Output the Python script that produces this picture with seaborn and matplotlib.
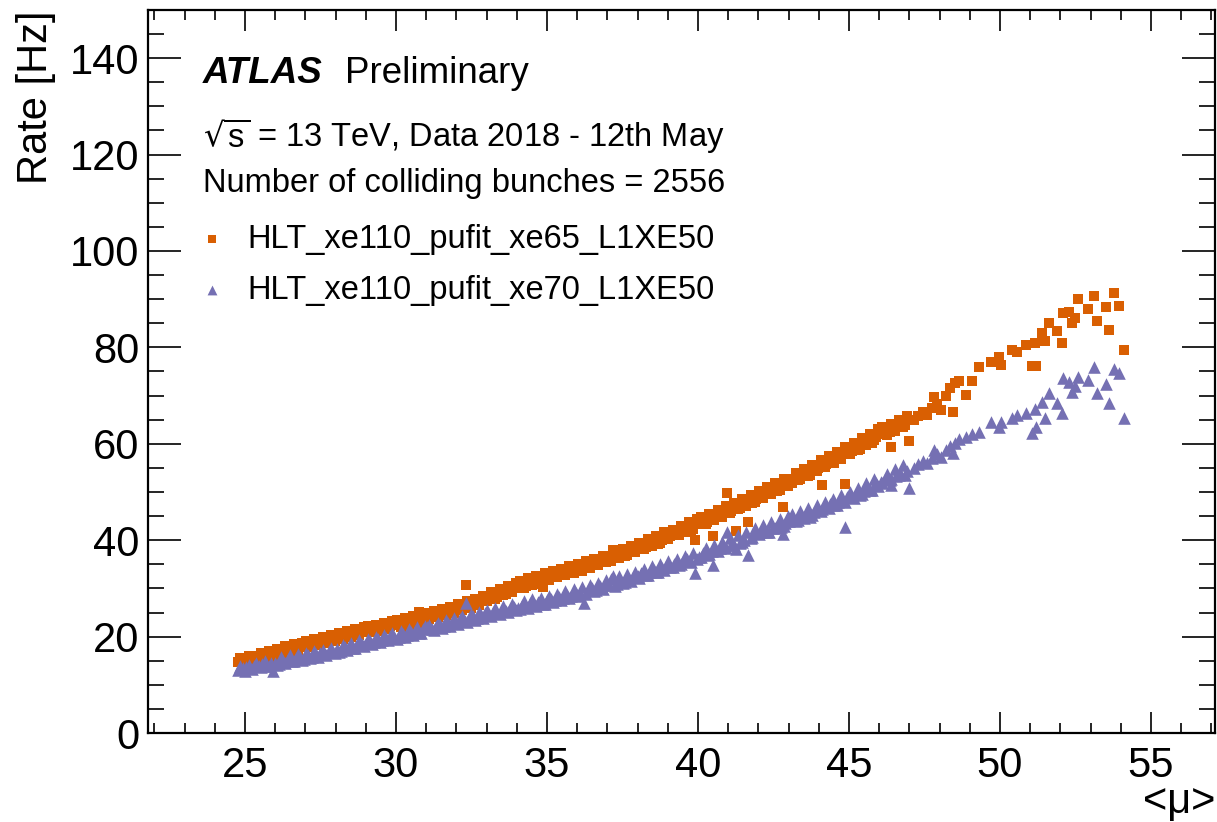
import matplotlib
matplotlib.use("Agg")
import matplotlib.pyplot as plt
import seaborn as sns
import pandas as pd
from matplotlib.ticker import MultipleLocator

# ---------------- data ----------------
# run A of luminosity blocks
mu_a = [
    24.78, 24.92, 25.05, 25.18, 25.31, 25.45, 25.58, 25.72, 25.86, 25.93,
    26.0, 26.13, 26.27, 26.41, 26.55, 26.68, 26.82, 26.95,
    27.09, 27.22, 27.36, 27.5, 27.63, 27.77, 27.9,
    28.04, 28.18, 28.31, 28.45, 28.59, 28.72, 28.86,
    29.0, 29.13, 29.27, 29.4, 29.54, 29.68, 29.81, 29.95,
    30.09, 30.22, 30.36, 30.5, 30.63, 30.77, 30.91,
    31.04, 31.18, 31.32, 31.45, 31.59, 31.72, 31.86,
    32.0, 32.13, 32.27, 32.31, 32.41, 32.54, 32.68, 32.82, 32.95,
    33.09, 33.22, 33.36, 33.5, 33.63, 33.77, 33.9,
    34.04, 34.18, 34.31, 34.45, 34.59, 34.72, 34.87,
    35.0, 35.13, 35.27, 35.4, 35.54, 35.68, 35.81, 35.95,
    36.09, 36.22, 36.36, 36.5, 36.63, 36.77, 36.91,
    37.04, 37.18, 37.32, 37.45, 37.59, 37.72, 37.86,
    38.0, 38.13, 38.27, 38.4, 38.54, 38.68, 38.81, 38.95,
    39.09, 39.22, 39.36, 39.5, 39.63, 39.77, 39.9,
    40.04, 40.18, 40.31, 40.45, 40.5, 40.59, 40.72, 40.86, 40.96,
    41.1, 41.26, 41.4, 41.53, 41.66, 41.8, 41.93,
    42.07, 42.2, 42.34, 42.48, 42.61, 42.75, 42.8, 42.89,
    43.02, 43.16, 43.3, 43.43, 43.57, 43.7, 43.84, 43.98,
    44.1, 44.23, 44.37, 44.5, 44.64, 44.77, 44.87, 44.95,
    45.09, 45.23, 45.36, 45.5, 45.64, 45.77, 45.91,
    46.05, 46.2, 46.35, 46.4, 46.55, 46.7, 46.85, 47.0,
    47.15, 47.3, 47.45, 47.6, 47.75, 47.8, 47.9, 48.05, 48.2, 48.35, 48.44, 48.5, 48.64,
    48.87, 49.07, 49.3, 49.7, 49.97, 50.03, 50.4, 50.56, 50.86, 51.06,
    51.16, 51.19, 51.39, 51.49, 51.62, 51.89, 52.05, 52.1, 52.3, 52.4,
    52.5, 52.6, 52.9, 53.1, 53.2, 53.5, 53.6, 53.78, 53.94, 54.1,
]
xe65_a = [
    14.7, 15.0, 15.3, 15.1, 15.7, 15.5, 16.2, 15.9, 16.6, 14.9,
    16.5, 17.0, 16.6, 17.3, 17.6, 17.2, 18.1, 17.8,
    18.0, 18.6, 18.3, 19.1, 18.8, 19.5, 19.3,
    19.6, 20.2, 19.9, 20.6, 20.3, 21.0, 21.2,
    21.0, 21.6, 21.3, 22.0, 21.8, 22.4, 22.1, 22.7,
    22.5, 23.0, 22.8, 23.4, 23.1, 25.2, 24.6,
    24.9, 24.3, 24.8, 24.5, 25.2, 25.0, 25.6,
    25.9, 26.4, 26.1, 30.7, 26.9, 27.3, 27.0, 27.8, 28.3,
    28.1, 28.6, 28.3, 29.2, 28.9, 29.6, 30.1,
    30.0, 30.8, 30.4, 31.2, 31.0, 31.6, 30.3,
    32.2, 32.8, 32.5, 33.1, 32.9, 33.5, 33.3, 34.0,
    34.1, 34.6, 34.3, 35.0, 34.8, 35.5, 35.9,
    36.0, 38.0, 36.4, 37.0, 36.8, 37.6, 38.1,
    38.2, 38.9, 38.5, 39.3, 39.6, 39.2, 40.1, 40.6,
    40.8, 41.4, 41.0, 41.9, 42.3, 42.0, 40.0,
    43.3, 44.0, 43.7, 44.5, 40.9, 44.9, 45.3, 45.8, 49.7,
    46.0, 41.9, 46.6, 47.2, 43.8, 47.8, 48.5,
    48.8, 49.5, 49.9, 50.6, 50.2, 51.3, 46.9, 51.7,
    52.0, 52.8, 52.4, 53.4, 53.9, 53.5, 54.6, 55.0,
    51.5, 55.8, 56.5, 56.1, 57.2, 57.8, 51.7, 58.3,
    58.5, 59.3, 58.9, 60.0, 60.6, 60.2, 61.5,
    62.0, 62.8, 62.4, 59.3, 63.5, 64.1, 63.8, 60.6,
    65.0, 65.8, 66.6, 66.0, 67.5, 69.7, 68.2, 67.0, 70.0, 71.5, 66.6, 72.6, 73.0,
    70.1, 73.0, 75.9, 77.0, 78.0, 76.3, 79.5, 79.0, 80.5, 76.1,
    80.9, 76.1, 83.0, 81.3, 85.1, 83.4, 80.9, 87.1, 87.3, 85.1,
    86.1, 90.0, 88.0, 90.7, 85.5, 88.4, 83.6, 91.3, 88.6, 79.5,
]
xe70_a = [
    13.1, 13.4, 13.7, 13.5, 13.9, 14.0, 14.3, 13.9, 14.5, 12.8,
    14.6, 14.4, 15.0, 15.3, 14.9, 15.6, 15.8, 15.4,
    16.1, 15.8, 16.4, 16.7, 16.3, 17.0, 16.8,
    17.4, 17.1, 17.8, 18.0, 17.6, 18.3, 18.5,
    18.7, 19.1, 18.9, 19.5, 19.2, 19.8, 20.1, 19.9,
    20.0, 20.5, 20.3, 20.9, 21.2, 20.8, 21.5,
    21.9, 21.5, 22.2, 22.5, 22.1, 22.8, 23.0,
    23.0, 23.6, 23.3, 27.0, 23.9, 24.2, 23.8, 24.5, 24.8,
    24.6, 25.2, 24.9, 25.5, 25.3, 25.8, 26.1,
    26.0, 26.5, 26.2, 26.9, 26.6, 27.2, 26.8,
    27.5, 27.9, 27.6, 28.3, 28.0, 28.6, 28.4, 29.0,
    29.0, 27.0, 29.6, 30.0, 29.7, 30.4, 30.8,
    30.8, 32.6, 31.0, 31.6, 31.3, 32.0, 32.4,
    32.6, 33.1, 32.8, 33.5, 33.9, 33.4, 34.2, 34.6,
    34.5, 35.1, 34.8, 35.6, 36.0, 35.5, 33.2,
    36.6, 37.3, 36.9, 37.7, 34.9, 38.0, 38.4, 38.8, 41.7,
    39.0, 38.2, 39.5, 40.0, 36.9, 40.6, 41.4,
    41.6, 42.1, 41.8, 42.6, 43.0, 42.7, 41.2, 43.5,
    44.0, 44.5, 44.2, 45.0, 45.4, 44.9, 45.8, 46.2,
    46.5, 47.0, 47.6, 47.2, 48.0, 48.5, 42.7, 48.9,
    49.0, 49.6, 49.3, 50.3, 50.9, 50.5, 51.8,
    52.0, 52.8, 52.5, 51.5, 53.4, 54.0, 53.6, 50.8,
    55.0, 55.8, 56.5, 56.0, 57.0, 58.7, 57.8, 57.3, 58.8, 59.5, 58.0, 60.2, 61.0,
    61.5, 62.0, 62.4, 64.5, 63.5, 64.5, 65.4, 66.0, 66.4, 62.2,
    67.2, 63.5, 68.7, 65.4, 70.5, 68.5, 66.4, 73.7, 72.8, 70.8,
    72.0, 73.9, 73.2, 75.9, 70.5, 72.4, 68.5, 75.5, 74.7, 65.3,
]

# run B of luminosity blocks
mu_b = [
    24.85, 24.99, 25.12, 25.25, 25.38, 25.52, 25.65, 25.79,
    26.07, 26.2, 26.34, 26.48, 26.61, 26.75, 26.89,
    27.02, 27.16, 27.29, 27.43, 27.57, 27.7, 27.84, 27.97,
    28.11, 28.24, 28.38, 28.52, 28.66, 28.79, 28.93,
    29.06, 29.2, 29.34, 29.47, 29.61, 29.74, 29.88,
    30.02, 30.16, 30.29, 30.43, 30.56, 30.7, 30.84, 30.97,
    31.11, 31.25, 31.38, 31.52, 31.66, 31.79, 31.93,
    32.06, 32.2, 32.36, 32.47, 32.61, 32.75, 32.88,
    33.02, 33.16, 33.29, 33.43, 33.56, 33.7, 33.84, 33.97,
    34.11, 34.24, 34.38, 34.52, 34.65, 34.79, 34.93,
    35.06, 35.2, 35.34, 35.47, 35.61, 35.74, 35.88,
    36.02, 36.15, 36.29, 36.43, 36.56, 36.7, 36.84, 36.97,
    37.11, 37.25, 37.38, 37.52, 37.66, 37.79, 37.93,
    38.06, 38.2, 38.34, 38.47, 38.61, 38.75, 38.88,
    39.02, 39.16, 39.29, 39.43, 39.56, 39.7, 39.84, 39.97,
    40.11, 40.25, 40.38, 40.52, 40.65, 40.79, 40.93,
    41.06, 41.2, 41.33, 41.47, 41.6, 41.74, 41.88,
    42.02, 42.15, 42.29, 42.43, 42.56, 42.7, 42.84, 42.97,
    43.11, 43.25, 43.38, 43.52, 43.65, 43.79, 43.93,
    44.06, 44.2, 44.33, 44.47, 44.6, 44.74, 44.88,
    45.02, 45.16, 45.29, 45.43, 45.56, 45.7, 45.84, 45.97,
    46.11, 46.25, 46.38, 46.52, 46.66, 46.79, 46.93,
]
xe65_b = [
    15.6, 14.6, 16.0, 15.9, 15.0, 16.6, 15.5, 17.0,
    17.5, 16.3, 18.0, 16.9, 18.4, 17.2, 18.7,
    19.0, 17.8, 19.5, 18.2, 19.9, 18.7, 20.3, 19.1,
    20.8, 19.4, 21.2, 19.9, 21.6, 20.3, 22.0,
    22.2, 20.9, 22.5, 21.2, 22.9, 21.6, 23.2,
    23.4, 22.0, 23.8, 22.5, 24.2, 22.9, 24.5, 23.3,
    23.6, 25.3, 24.0, 25.8, 24.5, 26.2, 25.0,
    26.7, 25.5, 27.3, 26.0, 27.9, 26.6, 28.5,
    27.3, 29.2, 27.9, 29.9, 28.6, 30.6, 29.2, 31.2,
    31.5, 30.1, 32.1, 30.7, 32.6, 31.2, 33.2,
    31.8, 33.6, 32.3, 34.1, 32.8, 34.6, 33.2,
    35.0, 33.7, 35.6, 34.3, 36.2, 34.9, 36.8, 35.4,
    35.7, 37.6, 36.3, 38.2, 36.9, 38.8, 37.5,
    39.5, 38.1, 40.2, 38.9, 40.9, 39.5, 41.6,
    40.3, 42.2, 41.0, 42.9, 41.7, 43.7, 42.3, 44.4,
    44.8, 43.4, 45.5, 44.1, 46.3, 44.8, 47.0,
    45.6, 47.8, 46.4, 48.6, 47.1, 49.4, 47.9,
    50.2, 48.8, 51.0, 49.6, 51.8, 50.4, 52.7, 51.3,
    51.8, 54.0, 52.6, 54.8, 53.4, 55.7, 54.3,
    56.6, 55.2, 57.4, 56.0, 58.3, 56.9, 59.3,
    57.9, 60.2, 58.8, 61.1, 59.7, 62.1, 60.8, 63.0,
    63.4, 61.9, 64.2, 62.7, 65.0, 63.5, 65.8,
]
xe70_b = [
    13.9, 12.9, 14.2, 13.2, 14.6, 13.6, 14.9, 13.8,
    14.2, 15.7, 14.6, 16.1, 14.9, 16.4, 15.2,
    16.7, 15.5, 17.0, 15.8, 17.3, 16.2, 17.6, 16.5,
    16.8, 18.3, 17.2, 18.7, 17.6, 19.2, 18.0,
    19.6, 18.4, 20.0, 18.8, 20.4, 19.2, 20.7,
    19.6, 21.1, 20.0, 21.5, 20.4, 21.9, 20.8, 22.3,
    22.5, 21.3, 22.9, 21.8, 23.4, 22.3, 23.8,
    22.7, 24.2, 23.1, 24.7, 23.5, 25.1, 23.9,
    25.5, 24.2, 25.9, 24.7, 26.3, 25.1, 26.7, 25.5,
    25.7, 27.3, 26.0, 27.7, 26.4, 28.1, 26.8,
    28.5, 27.1, 28.9, 27.6, 29.4, 28.0, 29.8,
    28.5, 30.2, 28.9, 30.7, 29.4, 31.2, 29.9, 31.7,
    32.0, 30.6, 32.5, 31.1, 33.0, 31.6, 33.4,
    32.2, 34.0, 32.8, 34.6, 33.3, 35.1, 33.8,
    35.6, 34.4, 36.2, 35.0, 36.8, 35.6, 37.4, 36.1,
    36.5, 38.4, 37.1, 39.0, 37.7, 39.7, 38.3,
    40.4, 39.0, 41.0, 39.7, 41.8, 40.4, 42.5,
    41.2, 43.1, 41.8, 43.8, 42.5, 44.4, 43.0, 45.0,
    45.4, 44.0, 46.0, 44.6, 46.7, 45.2, 47.3,
    46.0, 47.9, 46.6, 48.6, 47.3, 49.4, 48.0,
    50.1, 48.8, 50.9, 49.6, 51.8, 50.5, 52.6, 51.3,
    51.8, 53.8, 52.7, 54.8, 53.5, 55.6, 54.3,
]

triggers = ["HLT_xe110_pufit_xe65_L1XE50", "HLT_xe110_pufit_xe70_L1XE50"]
colors = ["#D95F02", "#7570B3"]
x_ticks = [25, 30, 35, 40, 45, 50, 55]
y_ticks = [0, 20, 40, 60, 80, 100, 120, 140]

assert len(mu_a) == len(xe65_a) == len(xe70_a)
assert len(mu_b) == len(xe65_b) == len(xe70_b)

df65 = pd.DataFrame({"mu": mu_a + mu_b, "rate": xe65_a + xe65_b})
df70 = pd.DataFrame({"mu": mu_a + mu_b, "rate": xe70_a + xe70_b})

# ---------------- style ----------------
sns.set_theme(style="ticks")
plt.rcParams["font.family"] = ["Liberation Sans", "DejaVu Sans"]
plt.rcParams.update({"text.color": "black", "axes.labelcolor": "black",
                     "xtick.color": "black", "ytick.color": "black",
                     "axes.edgecolor": "black"})

fig = plt.figure(figsize=(12.17, 8.22), dpi=100)
ax = fig.add_axes([148 / 1217, 89 / 822, 1067 / 1217, 723 / 822])

sns.scatterplot(data=df65, x="mu", y="rate", color=colors[0], marker="s",
                s=56, linewidth=0, ax=ax, label=triggers[0], zorder=3)
sns.scatterplot(data=df70, x="mu", y="rate", color=colors[1], marker="^",
                s=82, linewidth=0, ax=ax, label=triggers[1], zorder=3)

ax.set_xlim(21.79, 57.12)
ax.set_ylim(0, 150)
ax.set_xticks(x_ticks)
ax.set_yticks(y_ticks)
ax.xaxis.set_minor_locator(MultipleLocator(1))
ax.yaxis.set_minor_locator(MultipleLocator(5))

for s in ax.spines.values():
    s.set_linewidth(1.6)
    s.set_color("black")
    s.set_visible(True)

ax.tick_params(axis="both", which="both", direction="in", top=True, right=True,
               color="black", width=1.2)
ax.tick_params(axis="x", which="major", length=15, labelsize=30, pad=9)
ax.tick_params(axis="x", which="minor", length=7.5)
ax.tick_params(axis="y", which="major", length=23.5, labelsize=30, pad=6)
ax.tick_params(axis="y", which="minor", length=11.5)

ax.set_xlabel("")
ax.set_ylabel("Rate [Hz]", fontsize=30, loc="top", labelpad=10)
ax.text(1.0, -0.111, "<μ>", transform=ax.transAxes, ha="right", va="baseline",
        fontsize=30)

# ---------------- annotations ----------------
tx = (203 - 148) / 1067
ax.text(tx, 0.899, "ATLAS", transform=ax.transAxes, fontsize=26.5,
        fontweight="bold", fontstyle="italic", va="baseline", ha="left")
ax.text((345 - 148) / 1067, 0.899, "Preliminary", transform=ax.transAxes,
        fontsize=26.5, va="baseline", ha="left")
ax.text(tx, 0.8105, r"$\sqrt{\mathregular{s}}$ = 13 TeV, Data 2018 - 12th May",
        transform=ax.transAxes, fontsize=23.5, va="baseline", ha="left")
ax.text(tx, 0.748, "Number of colliding bunches = 2556",
        transform=ax.transAxes, fontsize=23.5, va="baseline", ha="left")

handles, labels = ax.get_legend_handles_labels()
ax.legend(handles, labels, loc="upper left",
          bbox_to_anchor=(0.0447, 0.704),
          frameon=False, fontsize=23.5, handlelength=1.0, handletextpad=0.57,
          labelspacing=0.6, borderpad=0, borderaxespad=0, markerscale=0.78)

fig.savefig("out.png", dpi=100)
